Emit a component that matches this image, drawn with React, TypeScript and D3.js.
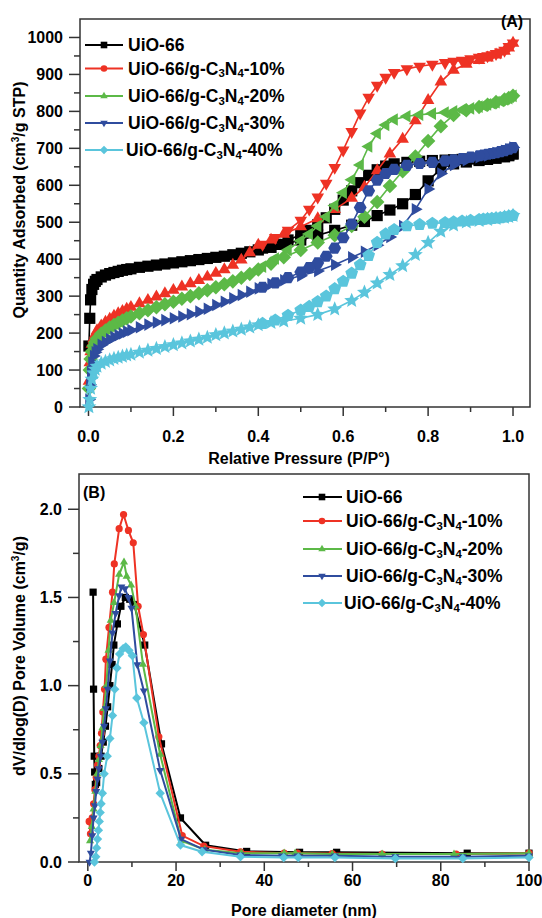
import React from 'react';
import * as d3 from 'd3';

const FONT = "'Liberation Sans', Arial, Helvetica, sans-serif";
const COLORS = ['#000000', '#ee3224', '#5cb947', '#2f4c9e', '#5ac5dc'];
const NAMES = ['UiO-66', 'UiO-66/g-C3N4-10%', 'UiO-66/g-C3N4-20%', 'UiO-66/g-C3N4-30%', 'UiO-66/g-C3N4-40%'];

// ---------- Panel A: N2 isotherms ----------
const pAds = [0.001, 0.003, 0.005, 0.008, 0.012, 0.016, 0.02, 0.03, 0.04, 0.05,
  0.06, 0.07, 0.08, 0.09, 0.10, 0.12, 0.14, 0.16, 0.18, 0.20,
  0.22, 0.24, 0.26, 0.28, 0.30, 0.32, 0.34, 0.36, 0.38, 0.40,
  0.43, 0.46, 0.50, 0.54, 0.58, 0.62, 0.65, 0.68, 0.71, 0.74,
  0.77, 0.80, 0.83, 0.86, 0.89, 0.92, 0.94, 0.96, 0.98, 0.99, 1.0];
const adsBlack = [165, 240, 290, 318, 332, 340, 345, 352, 357, 361,
  364, 367, 370, 372, 374, 378, 381, 384, 387, 390,
  393, 396, 399, 402, 405, 408, 412, 416, 420, 425,
  432, 440, 452, 465, 478, 492, 502, 518, 533, 550,
  575, 612, 645, 658, 663, 667, 670, 673, 677, 680, 685];
const adsRed = [70, 120, 150, 170, 185, 197, 207, 220, 230, 238,
  246, 253, 259, 265, 270, 280, 289, 298, 307, 316,
  325, 334, 343, 352, 362, 372, 384, 398, 418, 438,
  452, 468, 488, 510, 535, 565, 595, 640, 685, 725,
  775, 830, 880, 912, 928, 938, 945, 953, 963, 972, 985];
const adsGreen = [50, 100, 130, 150, 165, 175, 185, 198, 207, 215,
  222, 228, 234, 240, 245, 254, 262, 270, 278, 285,
  293, 300, 308, 316, 324, 332, 340, 350, 360, 372,
  388, 405, 425, 445, 465, 490, 515, 555, 598, 638,
  678, 720, 760, 790, 803, 812, 818, 825, 832, 836, 842];
const adsBlue = [20, 60, 95, 120, 138, 148, 156, 168, 176, 183,
  189, 194, 199, 204, 208, 216, 223, 229, 235, 240,
  245, 251, 258, 266, 276, 285, 294, 303, 312, 321,
  333, 343, 355, 368, 385, 405, 420, 438, 460, 490,
  535, 590, 632, 655, 668, 676, 681, 687, 693, 697, 702];
const adsCyan = [0, 20, 50, 75, 92, 102, 110, 118, 123, 127,
  131, 134, 137, 140, 142, 148, 153, 158, 163, 168,
  173, 178, 183, 188, 195, 200, 205, 210, 216, 222,
  228, 232, 240, 250, 265, 288, 310, 335, 358, 382,
  412, 445, 475, 492, 500, 504, 507, 510, 513, 515, 518];

const pDes = [1.0, 0.99, 0.98, 0.97, 0.96, 0.95, 0.94, 0.93, 0.92, 0.90,
  0.88, 0.86, 0.84, 0.81, 0.78, 0.75, 0.72, 0.70, 0.68, 0.66,
  0.64, 0.62, 0.60, 0.58, 0.56, 0.54, 0.52, 0.50, 0.47, 0.44, 0.41];
const desBlack = [685, 682, 680, 678, 677, 676, 675, 674, 673, 671,
  670, 669, 668, 667, 665, 662, 658, 652, 642, 627,
  607, 585, 560, 535, 512, 493, 478, 466, 452, 440, 430];
const desRed = [985, 975, 965, 960, 956, 953, 950, 948, 946, 942,
  938, 935, 932, 927, 922, 915, 905, 892, 870, 838,
  795, 745, 695, 648, 605, 568, 535, 505, 478, 458, 440];
const desGreen = [842, 836, 832, 828, 825, 822, 819, 816, 813, 808,
  804, 800, 797, 794, 791, 787, 778, 763, 740, 705,
  655, 615, 580, 545, 515, 490, 468, 450, 425, 402, 380];
const desBlue = [702, 698, 694, 691, 688, 686, 684, 682, 680, 676,
  672, 669, 666, 662, 659, 654, 643, 632, 614, 585,
  540, 495, 458, 430, 408, 390, 377, 365, 350, 336, 324];
const desCyan = [518, 516, 514, 512, 511, 510, 509, 508, 507, 505,
  503, 501, 499, 497, 494, 490, 480, 468, 445, 410,
  385, 362, 340, 320, 300, 285, 272, 262, 248, 235, 226];

const adsSeries = [adsBlack, adsRed, adsGreen, adsBlue, adsCyan];
const desSeries = [desBlack, desRed, desGreen, desBlue, desCyan];
const adsShapes = ['square', 'up', 'diamond', 'right', 'star'];
const desShapes = ['square', 'down', 'left', 'hexagon', 'pentagon'];

const xTicksA = [0, 0.2, 0.4, 0.6, 0.8, 1.0];
const xMinorA = [0.1, 0.3, 0.5, 0.7, 0.9];
const yTicksA = [0, 100, 200, 300, 400, 500, 600, 700, 800, 900, 1000];
const yMinorA = [50, 150, 250, 350, 450, 550, 650, 750, 850, 950];

// ---------- Panel B: pore size distribution ----------
const dBlack = [1.2, 1.3, 1.45, 1.55, 1.7, 2.0, 2.5, 3.0, 3.5, 4.0, 4.5, 5.0, 5.5, 5.9, 6.7, 7.5, 8.5, 9.5, 10.5, 12.9, 16.7, 21.0, 26.7, 36.0, 48.0, 56.4, 86.0, 100];
const vBlack = [1.53, 0.98, 0.60, 0.51, 0.44, 0.45, 0.53, 0.60, 0.68, 0.77, 0.88, 1.00, 1.12, 1.23, 1.35, 1.45, 1.50, 1.49, 1.46, 1.23, 0.67, 0.25, 0.095, 0.06, 0.055, 0.055, 0.05, 0.05];
const dRed = [0.3, 0.6, 1.0, 1.3, 1.6, 1.9, 2.2, 2.5, 2.8, 3.1, 3.4, 3.8, 4.1, 4.8, 5.6, 6.0, 7.1, 8.1, 9.2, 10.3, 11.4, 12.6, 16.1, 21.4, 26.3, 34.6, 44.5, 47.5, 55.4, 66.7, 83.5, 100];
const vRed = [0.23, 0.16, 0.25, 0.33, 0.41, 0.48, 0.55, 0.60, 0.66, 0.73, 0.85, 0.98, 1.15, 1.33, 1.53, 1.69, 1.89, 1.97, 1.88, 1.81, 1.45, 1.29, 0.71, 0.15, 0.09, 0.058, 0.05, 0.05, 0.048, 0.045, 0.045, 0.05];
const dGreen = [0.5, 0.9, 1.3, 1.7, 2.1, 2.5, 2.9, 3.3, 3.7, 4.2, 4.7, 5.2, 5.95, 7.1, 8.2, 8.8, 9.8, 10.8, 12.5, 16.4, 21.2, 26.5, 34.8, 44.5, 47.0, 55.4, 66.7, 83.0, 100];
const vGreen = [0.12, 0.20, 0.30, 0.40, 0.50, 0.58, 0.66, 0.76, 0.87, 1.00, 1.20, 1.37, 1.47, 1.63, 1.70, 1.62, 1.57, 1.45, 1.12, 0.61, 0.12, 0.07, 0.05, 0.05, 0.05, 0.045, 0.045, 0.045, 0.05];
const dBlue = [0.4, 0.7, 1.0, 1.3, 1.6, 1.9, 2.2, 2.5, 2.9, 3.3, 3.7, 4.1, 4.5, 5.0, 5.6, 6.3, 7.1, 7.6, 8.4, 9.2, 9.9, 11.2, 12.7, 16.4, 21.1, 26.3, 34.6, 44.0, 47.5, 56.0, 69.7, 85.0, 100];
const vBlue = [0.0, 0.05, 0.15, 0.25, 0.32, 0.40, 0.47, 0.53, 0.60, 0.68, 0.77, 0.87, 0.98, 1.14, 1.30, 1.41, 1.51, 1.56, 1.55, 1.50, 1.44, 1.12, 0.97, 0.52, 0.13, 0.07, 0.04, 0.035, 0.035, 0.035, 0.03, 0.03, 0.035];
const dCyan = [1.5, 1.8, 2.0, 2.2, 2.4, 2.6, 2.8, 3.0, 3.3, 3.7, 4.4, 5.0, 5.6, 6.1, 6.6, 7.2, 8.0, 8.6, 9.3, 10.1, 11.1, 12.7, 16.4, 21.0, 25.9, 34.6, 44.4, 47.7, 56.0, 69.7, 85.0, 100];
const vCyan = [0.0, 0.03, 0.08, 0.13, 0.18, 0.23, 0.28, 0.33, 0.39, 0.50, 0.60, 0.70, 0.83, 0.98, 1.10, 1.18, 1.21, 1.22, 1.20, 1.17, 0.93, 0.79, 0.39, 0.096, 0.058, 0.03, 0.025, 0.025, 0.025, 0.02, 0.02, 0.025];

const psdX = [dBlack, dRed, dGreen, dBlue, dCyan];
const psdY = [vBlack, vRed, vGreen, vBlue, vCyan];
const legendShapes = ['square', 'circle', 'up', 'down', 'diamond'];

const xTicksB = [0, 20, 40, 60, 80, 100];
const xMinorB = [10, 30, 50, 70, 90];
const yTicksB = [0, 0.5, 1.0, 1.5, 2.0];
const yMinorB = [0.25, 0.75, 1.25, 1.75];

// ---------- helpers ----------
function polygon(n: number, r: number, startDeg: number) {
  const pts = d3.range(n).map((i) => {
    const a = ((startDeg + (360 / n) * i) * Math.PI) / 180;
    return [r * Math.cos(a), r * Math.sin(a)];
  });
  return 'M' + pts.map((p) => p[0].toFixed(2) + ',' + p[1].toFixed(2)).join('L') + 'Z';
}
function star(r: number) {
  const pts = d3.range(10).map((i) => {
    const a = ((-90 + 36 * i) * Math.PI) / 180;
    const rr = i % 2 === 0 ? r : r * 0.45;
    return [rr * Math.cos(a), rr * Math.sin(a)];
  });
  return 'M' + pts.map((p) => p[0].toFixed(2) + ',' + p[1].toFixed(2)).join('L') + 'Z';
}
function markerPath(shape: string, s: number) {
  switch (shape) {
    case 'square':
      return `M${-s},${-s}h${2 * s}v${2 * s}h${-2 * s}Z`;
    case 'circle':
      return `M${s},0A${s},${s} 0 1,1 ${-s},0A${s},${s} 0 1,1 ${s},0Z`;
    case 'up':
      return polygon(3, s * 1.3, -90);
    case 'down':
      return polygon(3, s * 1.3, 90);
    case 'left':
      return polygon(3, s * 1.3, 180);
    case 'right':
      return polygon(3, s * 1.3, 0);
    case 'diamond':
      return polygon(4, s * 1.3, -90);
    case 'hexagon':
      return polygon(6, s * 1.15, 0);
    case 'pentagon':
      return polygon(5, s * 1.2, -90);
    case 'star':
      return star(s * 1.4);
    default:
      return polygon(4, s, 45);
  }
}

function Label({ name, x, y, size }: { name: string; x: number; y: number; size: number }) {
  const sub = size * 0.65;
  const dy = size * 0.28;
  if (name.indexOf('C3N4') < 0) {
    return (
      <text x={x} y={y} fontSize={size} fontWeight="bold" fontFamily={FONT} dominantBaseline="central">
        {name}
      </text>
    );
  }
  const [pre, post] = name.split('C3N4');
  return (
    <text x={x} y={y} fontSize={size} fontWeight="bold" fontFamily={FONT} dominantBaseline="central">
      {pre + 'C'}
      <tspan fontSize={sub} dy={dy}>3</tspan>
      <tspan dy={-dy}>N</tspan>
      <tspan fontSize={sub} dy={dy}>4</tspan>
      <tspan dy={-dy}>{post}</tspan>
    </text>
  );
}

const AXIS = '#333333';

function Axes({ x, y, xT, xM, yT, yM, xFmt, yFmt, xLabelY }: any) {
  const [x0, x1] = x.range();
  const [y0, y1] = y.range();
  return (
    <g>
      <rect x={x0} y={y1} width={x1 - x0} height={y0 - y1} fill="none" stroke={AXIS} strokeWidth={1.5} />
      {xT.map((t: number) => (
        <g key={'xt' + t}>
          <line x1={x(t)} x2={x(t)} y1={y0} y2={y0 + 9} stroke={AXIS} strokeWidth={1.5} />
          <text x={x(t)} y={xLabelY} textAnchor="middle" fontSize={16} fontWeight="bold" fontFamily={FONT} dominantBaseline="central">
            {xFmt(t)}
          </text>
        </g>
      ))}
      {xM.map((t: number) => (
        <line key={'xm' + t} x1={x(t)} x2={x(t)} y1={y0} y2={y0 + 5} stroke={AXIS} strokeWidth={1.5} />
      ))}
      {yT.map((t: number) => (
        <g key={'yt' + t}>
          <line x1={x0 - 11} x2={x0} y1={y(t)} y2={y(t)} stroke={AXIS} strokeWidth={1.5} />
          <text x={x0 - 17} y={y(t)} textAnchor="end" fontSize={16} fontWeight="bold" fontFamily={FONT} dominantBaseline="central">
            {yFmt(t)}
          </text>
        </g>
      ))}
      {yM.map((t: number) => (
        <line key={'ym' + t} x1={x0 - 6} x2={x0} y1={y(t)} y2={y(t)} stroke={AXIS} strokeWidth={1.5} />
      ))}
    </g>
  );
}

export default function App() {
  const xA = d3.scaleLinear().domain([-0.02, 1.04]).range([80, 530]);
  const yA = d3.scaleLinear().domain([0, 1050]).range([407, 19]);
  const xB = d3.scaleLinear().domain([-2, 100]).range([79, 529]);
  const yB = d3.scaleLinear().domain([0, 2.2]).range([862, 474]);

  const lineA = (ps: number[], vs: number[]) =>
    d3.line<number>().x((_, i) => xA(ps[i])).y((v) => yA(v))(vs) || '';
  const lineB = (ds: number[], vs: number[]) =>
    d3.line<number>().x((_, i) => xB(ds[i])).y((v) => yB(v))(vs) || '';

  const legendA = [45, 68.5, 96, 123, 150];
  const legendB = [497, 521, 549, 576, 603];

  return (
    <svg width={542} height={918} style={{ position: 'absolute', left: 0, top: 0, background: '#fff' }}>
      <rect x={0} y={0} width={542} height={918} fill="#fff" />

      {/* ---------- Panel A ---------- */}
      <Axes x={xA} y={yA} xT={xTicksA} xM={xMinorA} yT={yTicksA} yM={yMinorA}
        xFmt={(t: number) => t.toFixed(1)} yFmt={(t: number) => String(t)} xLabelY={436} />
      {COLORS.map((c, k) => (
        <g key={'A' + k}>
          <path d={lineA(pAds, adsSeries[k])} fill="none" stroke={c} strokeWidth={1.6} />
          <path d={lineA(pDes, desSeries[k])} fill="none" stroke={c} strokeWidth={1.6} />
          {adsSeries[k].map((v, i) => (
            <path key={'a' + i} d={markerPath(adsShapes[k], 5.6)} transform={`translate(${xA(pAds[i])},${yA(v)})`} fill={c} />
          ))}
          {desSeries[k].map((v, i) => (
            <path key={'d' + i} d={markerPath(desShapes[k], 5.6)} transform={`translate(${xA(pDes[i])},${yA(v)})`} fill={c} />
          ))}
        </g>
      ))}
      {COLORS.map((c, k) => (
        <g key={'LA' + k}>
          <line x1={85} x2={123} y1={legendA[k]} y2={legendA[k]} stroke={c} strokeWidth={2} />
          <path d={markerPath(legendShapes[k], 3.3)} transform={`translate(104,${legendA[k]})`} fill={c} />
          <Label name={NAMES[k]} x={k === 4 ? 126 : 128} y={legendA[k]} size={17.5} />
        </g>
      ))}
      <text x={512} y={21} textAnchor="middle" fontSize={16} fontWeight="bold" fontFamily={FONT} dominantBaseline="central">(A)</text>
      <text x={299} y={458} textAnchor="middle" fontSize={16} fontWeight="bold" fontFamily={FONT} dominantBaseline="central">
        Relative Pressure (P/P°)
      </text>
      <text transform="translate(25,200) rotate(-90)" textAnchor="middle" fontSize={16} fontWeight="bold" fontFamily={FONT}>
        Quantity Adsorbed (cm<tspan fontSize={10} dy={-6}>3</tspan><tspan dy={6}>/g STP)</tspan>
      </text>

      {/* ---------- Panel B ---------- */}
      <Axes x={xB} y={yB} xT={xTicksB} xM={xMinorB} yT={yTicksB} yM={yMinorB}
        xFmt={(t: number) => String(t)} yFmt={(t: number) => t.toFixed(1)} xLabelY={880} />
      {COLORS.map((c, k) => (
        <g key={'B' + k}>
          <path d={lineB(psdX[k], psdY[k])} fill="none" stroke={c} strokeWidth={2} />
          {psdY[k].map((v, i) => (
            <path key={'b' + i} d={markerPath(legendShapes[k], 3.6)} transform={`translate(${xB(psdX[k][i])},${yB(v)})`} fill={c} />
          ))}
        </g>
      ))}
      {COLORS.map((c, k) => (
        <g key={'LB' + k}>
          <line x1={303} x2={342} y1={legendB[k]} y2={legendB[k]} stroke={c} strokeWidth={2} />
          <path d={markerPath(legendShapes[k], 3.3)} transform={`translate(322,${legendB[k]})`} fill={c} />
          <Label name={NAMES[k]} x={k === 4 ? 344 : 346} y={legendB[k]} size={17.5} />
        </g>
      ))}
      <text x={83} y={492} fontSize={16} fontWeight="bold" fontFamily={FONT} dominantBaseline="central">(B)</text>
      <text x={304} y={910} textAnchor="middle" fontSize={16} fontWeight="bold" fontFamily={FONT} dominantBaseline="central">
        Pore diameter (nm)
      </text>
      <text transform="translate(25,656) rotate(-90)" textAnchor="middle" fontSize={16} fontWeight="bold" fontFamily={FONT}>
        dV/dlog(D) Pore Volume (cm<tspan fontSize={10} dy={-6}>3</tspan><tspan dy={6}>/g)</tspan>
      </text>
    </svg>
  );
}
